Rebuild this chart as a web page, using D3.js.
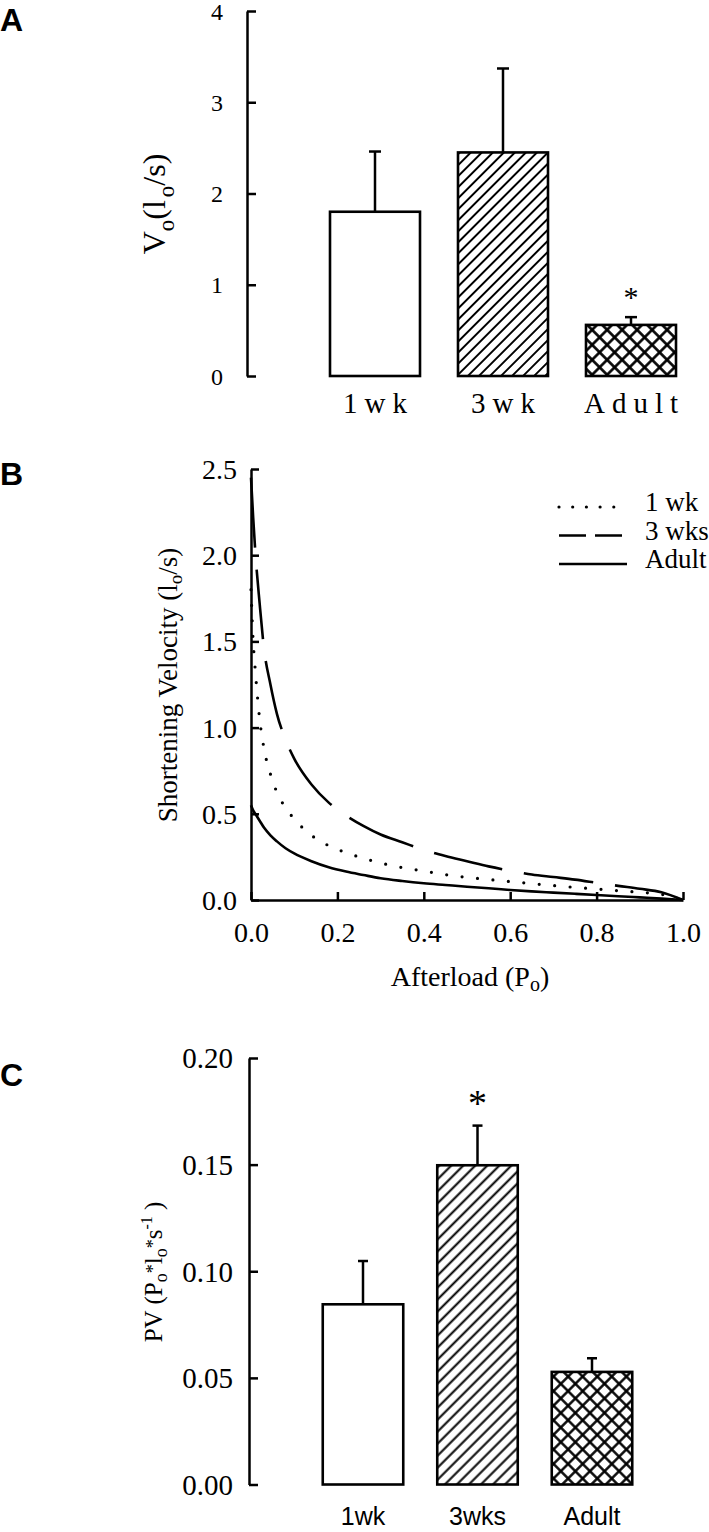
<!DOCTYPE html>
<html>
<head>
<meta charset="utf-8">
<script src="https://cdn.jsdelivr.net/npm/d3@7"></script>
<style>
  body { margin: 0; background: #fff; }
  svg { display: block; font-family: 'Liberation Serif', 'Times New Roman', serif; }
  .tick text { font-family: 'Liberation Serif', 'Times New Roman', serif !important; }
</style>
</head>
<body>
<svg id="fig" width="709" height="1532"></svg>
<script>
// ---- panel A: unloaded shortening velocity
const groupsA = ['1wk', '3wk', 'Adult'];
const meanA = [1.80, 2.45, 0.56];
const semA = [0.66, 0.92, 0.085];
const ticksA = [0, 1, 2, 3, 4];
const sigA = [false, false, true];

// ---- panel B: force-velocity curves
const afterload = [0, 0.005, 0.01, 0.02, 0.03, 0.045, 0.06, 0.08, 0.1, 0.14, 0.18, 0.22, 0.26, 0.3,
  0.35, 0.4, 0.45, 0.5, 0.55, 0.6, 0.65, 0.7, 0.75, 0.8, 0.85, 0.9, 0.95, 1.0];
const vel1wk = [1.80, 1.50, 1.33, 1.05, 0.88, 0.73, 0.625, 0.535, 0.47, 0.375, 0.315, 0.275, 0.242, 0.215,
  0.188, 0.168, 0.147, 0.131, 0.119, 0.107, 0.095, 0.084, 0.073, 0.064, 0.054, 0.045, 0.033, 0.0];
const vel3wks = [2.45, 2.22, 2.02, 1.72, 1.46, 1.25, 1.08, 0.93, 0.82, 0.67, 0.565, 0.49, 0.43, 0.38,
  0.335, 0.29, 0.255, 0.225, 0.195, 0.17, 0.148, 0.133, 0.118, 0.10, 0.082, 0.065, 0.045, 0.0];
const velAdult = [0.55, 0.52, 0.50, 0.46, 0.42, 0.375, 0.34, 0.30, 0.27, 0.225, 0.19, 0.165, 0.145, 0.126,
  0.11, 0.097, 0.087, 0.077, 0.068, 0.058, 0.05, 0.043, 0.036, 0.029, 0.022, 0.015, 0.008, 0.0];
const ticksBx = [0, 0.2, 0.4, 0.6, 0.8, 1.0];
const ticksBy = [0, 0.5, 1.0, 1.5, 2.0, 2.5];
const legendB = ['1 wk', '3 wks', 'Adult'];

// ---- panel C: peak power
const groupsC = ['1wk', '3wks', 'Adult'];
const meanC = [0.0845, 0.1497, 0.0528];
const semC = [0.0203, 0.0186, 0.0064];
const ticksC = [0, 0.05, 0.10, 0.15, 0.20];
const sigC = [false, true, false];

const serif = "'Liberation Serif', 'Times New Roman', serif";
const sans = "'Liberation Sans', Arial, sans-serif";
const svg = d3.select('#fig');
const defs = svg.append('defs');

// hatch patterns
function hatch(id, w, sw, cross) {
  const p = defs.append('pattern')
    .attr('id', id)
    .attr('patternUnits', 'userSpaceOnUse')
    .attr('width', w).attr('height', w)
    .attr('patternTransform', 'rotate(45)');
  p.append('rect').attr('width', w).attr('height', w).attr('fill', '#fff');
  p.append('line').attr('x1', w / 2).attr('x2', w / 2).attr('y1', -1).attr('y2', w + 1)
    .attr('stroke', '#000').attr('stroke-width', sw);
  if (cross) {
    p.append('line').attr('y1', w / 2).attr('y2', w / 2).attr('x1', -1).attr('x2', w + 1)
      .attr('stroke', '#000').attr('stroke-width', sw);
  }
}
hatch('hatchA', 7.8, 2, false);
hatch('crossA', 10.6, 2.6, true);
hatch('hatchC', 8.5, 2, false);
hatch('crossC', 10.3, 2.4, true);

function styleAxis(g, size) {
  g.attr('font-family', null).attr('font-size', null);
  g.select('.domain').attr('stroke-width', 2.5);
  g.selectAll('.tick line').attr('stroke-width', 2.5);
  g.selectAll('.tick text')
    .attr('style', `font-family: 'Liberation Serif', serif; font-size: ${size}px`)
    .attr('fill', '#000');
}

function panelLetter(t, x, y) {
  svg.append('text').attr('x', x).attr('y', y)
    .style('font-family', sans).attr('font-weight', 'bold').style('font-size', '32px')
    .text(t);
}

// bar panel helper
function barPanel(o) {
  const g = svg.append('g');
  const y = d3.scaleLinear().domain(o.domain).range(o.yRange);
  const x = d3.scalePoint().domain(o.groups).range(o.xRange);

  const axis = g.append('g')
    .attr('transform', `translate(${o.axisX},0)`)
    .call(d3.axisLeft(y).tickValues(o.ticks).tickFormat(o.fmt)
      .tickSize(-9).tickSizeOuter(0).tickPadding(o.pad));
  styleAxis(axis, o.tickFont);
  axis.selectAll('.tick text').attr('dy', '0.34em');

  const data = o.groups.map((k, i) => ({ k, m: o.mean[i], e: o.sem[i], s: o.sig[i], fill: o.fills[i] }));

  g.selectAll('rect.bar').data(data).join('rect')
    .attr('class', 'bar')
    .attr('x', d => x(d.k) - o.barW / 2)
    .attr('width', o.barW)
    .attr('y', d => y(d.m))
    .attr('height', d => y(0) - y(d.m))
    .attr('fill', d => d.fill)
    .attr('stroke', '#000')
    .attr('stroke-width', 2.6);

  g.selectAll('line.err').data(data).join('line')
    .attr('class', 'err')
    .attr('x1', d => x(d.k)).attr('x2', d => x(d.k))
    .attr('y1', d => y(d.m)).attr('y2', d => y(d.m + d.e))
    .attr('stroke', '#000').attr('stroke-width', 2.5);
  g.selectAll('line.cap').data(data).join('line')
    .attr('class', 'cap')
    .attr('x1', d => x(d.k) - o.capW / 2).attr('x2', d => x(d.k) + o.capW / 2)
    .attr('y1', d => y(d.m + d.e)).attr('y2', d => y(d.m + d.e))
    .attr('stroke', '#000').attr('stroke-width', 2.5);

  g.selectAll('text.sig').data(data.filter(d => d.s)).join('text')
    .attr('class', 'sig')
    .attr('x', d => x(d.k))
    .attr('y', d => y(d.m + d.e) - o.sigGap)
    .attr('text-anchor', 'middle')
    .style('font-family', serif).style('font-size', o.sigSize + 'px')
    .text('*');

  g.selectAll('text.cat').data(data).join('text')
    .attr('class', 'cat')
    .attr('x', d => x(d.k) + (o.catSpacing || 0) / 2)
    .attr('y', o.catY)
    .attr('text-anchor', 'middle')
    .style('font-family', o.catFont).style('font-size', o.catSize + 'px')
    .attr('letter-spacing', o.catSpacing || 0)
    .text(d => d.k);
  return g;
}

// ---------------- Panel A
panelLetter('A', 0, 31);
barPanel({
  domain: [0, 4], yRange: [376, 11], groups: groupsA, xRange: [375, 631],
  axisX: 247, ticks: ticksA, fmt: d3.format('d'), pad: 24, tickFont: 24,
  mean: meanA, sem: semA, sig: sigA, fills: ['#fff', 'url(#hatchA)', 'url(#crossA)'],
  barW: 90, capW: 12, sigGap: 10, sigSize: 30,
  catY: 413, catFont: serif, catSize: 29, catSpacing: 7
});
const labA = svg.append('text')
  .attr('transform', 'translate(165,204) rotate(-90)')
  .attr('text-anchor', 'middle')
  .style('font-family', serif).style('font-size', '32px');
labA.append('tspan').text('V');
labA.append('tspan').style('font-size', '23px').attr('dy', 9).text('o');
labA.append('tspan').attr('dy', -9).text('(l ');
labA.append('tspan').style('font-size', '23px').attr('dy', 9).attr('dx', -5).text('o');
labA.append('tspan').attr('dy', -9).text('/s)');

// ---------------- Panel B
panelLetter('B', 0, 485);
const gB = svg.append('g');
const xB = d3.scaleLinear().domain([0, 1]).range([251, 683]);
const yB = d3.scaleLinear().domain([0, 2.5]).range([900, 469]);

const axBy = gB.append('g').attr('transform', 'translate(251,0)')
  .call(d3.axisLeft(yB).tickValues(ticksBy).tickFormat(d3.format('.1f'))
    .tickSize(-8).tickSizeOuter(0).tickPadding(14));
styleAxis(axBy, 28);
axBy.selectAll('.tick text').attr('dy', '0.34em');

const axBx = gB.append('g').attr('transform', 'translate(0,900)')
  .call(d3.axisBottom(xB).tickValues(ticksBx).tickFormat(d3.format('.1f'))
    .tickSize(-8).tickSizeOuter(0).tickPadding(22));
styleAxis(axBx, 28);

const seriesB = [
  { name: legendB[0], v: vel1wk, dash: '0,15.5', cap: 'round', w: 3.2, legDash: '0,13.7' },
  { name: legendB[1], v: vel3wks, dash: '70,22', cap: 'butt', w: 2.6, legDash: '27,9' },
  { name: legendB[2], v: velAdult, dash: null, cap: 'butt', w: 2.6, legDash: null }
];
const lineB = d3.line()
  .x((d, i) => xB(afterload[i]))
  .y(d => yB(d))
  .curve(d3.curveMonotoneX);

gB.selectAll('path.curve').data(seriesB).join('path')
  .attr('class', 'curve')
  .attr('d', d => lineB(d.v))
  .attr('fill', 'none')
  .attr('stroke', '#000')
  .attr('stroke-width', d => d.w)
  .attr('stroke-linecap', d => d.cap)
  .attr('stroke-dasharray', d => d.dash);

const leg = gB.append('g').attr('transform', 'translate(559,0)');
const legY = d3.scalePoint().domain(legendB).range([507, 564]);
leg.selectAll('line').data(seriesB).join('line')
  .attr('x1', 0).attr('x2', 68)
  .attr('y1', d => legY(d.name)).attr('y2', d => legY(d.name))
  .attr('stroke', '#000')
  .attr('stroke-width', d => d.w)
  .attr('stroke-linecap', d => d.cap)
  .attr('stroke-dasharray', d => d.legDash);
leg.selectAll('text').data(seriesB).join('text')
  .attr('x', 86)
  .attr('y', d => legY(d.name) + 4)
  .style('font-family', serif).style('font-size', '27px')
  .text(d => d.name);

const labBy = svg.append('text')
  .attr('transform', 'translate(177,685) rotate(-90)')
  .attr('text-anchor', 'middle')
  .style('font-family', serif).style('font-size', '27px');
labBy.append('tspan').text('Shortening Velocity (l');
labBy.append('tspan').style('font-size', '19px').attr('dy', 5).text('o');
labBy.append('tspan').attr('dy', -5).text('/s)');

const labBx = svg.append('text')
  .attr('x', 470).attr('y', 986)
  .attr('text-anchor', 'middle')
  .style('font-family', serif).style('font-size', '28px');
labBx.append('tspan').text('Afterload (P');
labBx.append('tspan').style('font-size', '20px').attr('dy', 5).text('o');
labBx.append('tspan').attr('dy', -5).text(')');

// ---------------- Panel C
panelLetter('C', 0, 1086);
barPanel({
  domain: [0, 0.2], yRange: [1484.5, 1058], groups: groupsC, xRange: [363, 592],
  axisX: 249, ticks: ticksC, fmt: d3.format('.2f'), pad: 16, tickFont: 29,
  mean: meanC, sem: semC, sig: sigC, fills: ['#fff', 'url(#hatchC)', 'url(#crossC)'],
  barW: 80.5, capW: 10, sigGap: 10, sigSize: 38,
  catY: 1525, catFont: sans, catSize: 25, catSpacing: 0
});
const labC = svg.append('text')
  .attr('transform', 'translate(162,1272) rotate(-90)')
  .attr('text-anchor', 'middle')
  .style('font-family', serif).style('font-size', '25px');
labC.append('tspan').text('PV (P');
labC.append('tspan').style('font-size', '18px').attr('dy', 5).text('o');
labC.append('tspan').style('font-size', '18px').attr('dy', -8).text('*');
labC.append('tspan').attr('dy', 3).text('l');
labC.append('tspan').style('font-size', '18px').attr('dy', 5).text('o');
labC.append('tspan').style('font-size', '18px').attr('dy', -8).text('*');
labC.append('tspan').attr('dy', 3).text('s');
labC.append('tspan').style('font-size', '16px').attr('dy', -10).text('-1');
labC.append('tspan').attr('dy', 10).text(' )');
</script>
</body>
</html>
